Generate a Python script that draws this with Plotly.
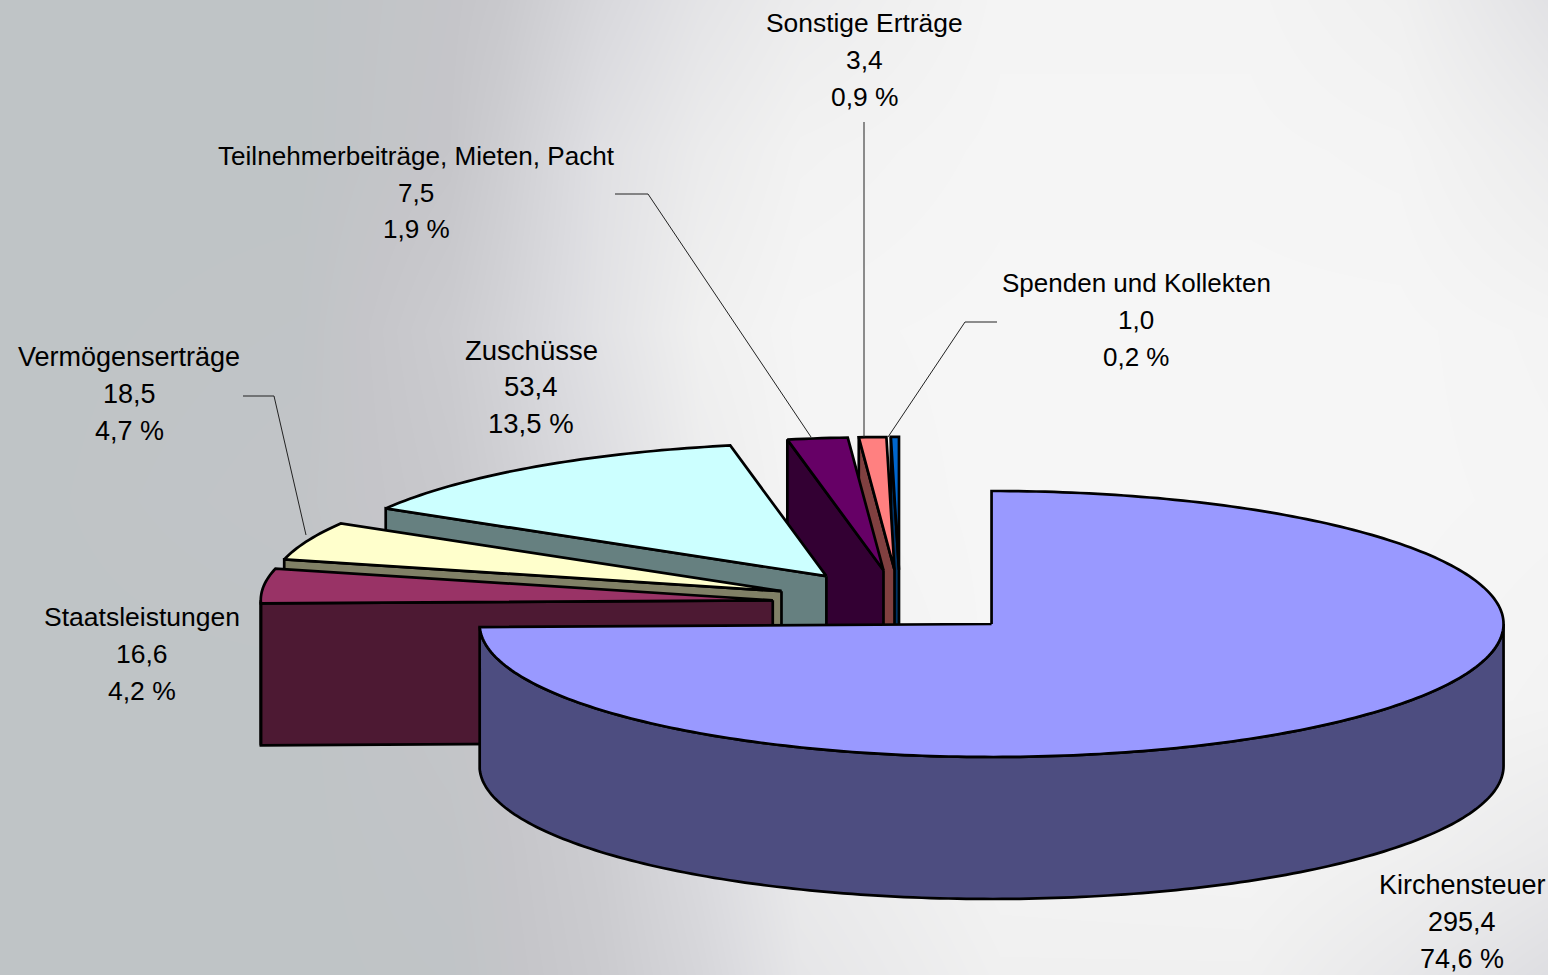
import math
import plotly.graph_objects as go

# ---- data ----
categories = ["Kirchensteuer", "Staatsleistungen", "Vermögenserträge", "Zuschüsse",
              "Teilnehmerbeiträge, Mieten, Pacht", "Sonstige Erträge", "Spenden und Kollekten"]
values = [295.4, 16.6, 18.5, 53.4, 7.5, 3.4, 1.0]
shares = [74.6, 4.2, 4.7, 13.5, 1.9, 0.9, 0.2]
top_colors = ["#9999FF", "#993366", "#FFFFCC", "#CCFFFF", "#660066", "#FF8080", "#0066CC"]
side_colors = ["#4D4D80", "#4D1933", "#808066", "#668080", "#330033", "#804040", "#003366"]

# label block: centre x and y of the three text rows, and font size
label_x = [1462, 142, 129, 531, 416, 864, 1136]
label_y = [(885, 922, 959), (617, 654, 691), (357, 394, 431), (350, 386, 423),
           (156, 193, 229), (23, 60, 97), (283, 320, 357)]
label_size = [27, 26.5, 27, 27.5, 26.1, 26.4, 26]

# leader lines
leader_x = [[243, 274, 306], [615, 648, 811], [864, 864], [997, 965, 888]]
leader_y = [[396, 396, 535], [194, 194, 437], [122, 437], [322, 322, 437]]

# background shading (grey level), sampled by eye
bg_x = [0, 300, 450, 500, 600, 700, 800, 1000, 1250, 1400, 1548]
bg_y = [0, 150, 330, 500, 700, 850, 975]
bg_z = [
    [191, 191, 196, 200, 216, 228, 236, 244, 244, 240, 226],
    [191, 191, 197, 205, 224, 235, 242, 245, 245, 244, 236],
    [191, 192, 203, 210, 226, 240, 245, 246, 246, 246, 244],
    [191, 193, 200, 206, 220, 236, 244, 246, 246, 246, 245],
    [191, 191, 195, 198, 208, 226, 240, 246, 246, 245, 243],
    [191, 191, 193, 196, 204, 218, 234, 243, 244, 240, 234],
    [191, 191, 192, 195, 202, 214, 230, 240, 240, 232, 222],
]

# ---- projection of the exploded 3-D pie onto the page ----
CX, CY = 900, 604      # pie centre before explosion
RX, RY = 512, 133      # ellipse radii
DEPTH = 142            # extrusion height
EXPLODE_X = 0.25       # explosion as share of the radius
EXPLODE_Y = [0.215, 0.256, 0.256, 0.256, 0.256, 0.256, 0.256]
LINE = 2.7


def pt(cx, cy, deg):
    a = math.radians(deg)
    return cx + RX * math.sin(a), cy - RY * math.cos(a)


def arc(cx, cy, a0, a1):
    n = max(2, int(abs(a1 - a0)) + 2)
    return [pt(cx, cy, a0 + (a1 - a0) * i / (n - 1)) for i in range(n)]


total = sum(values)
fig = go.Figure()
fig.add_trace(go.Heatmap(
    x=bg_x, y=bg_y, z=bg_z, zsmooth="best", showscale=False, hoverinfo="skip",
    zmin=191, zmax=246,
    colorscale=[[0, "#BFC4C6"], [0.1, "#C5C5C9"], [0.53, "#DCDCE0"], [0.89, "#F0F0F0"], [1, "#F6F6F6"]],
))


def poly(pts, fill, name):
    fig.add_trace(go.Scatter(
        x=[p[0] for p in pts] + [pts[0][0]], y=[p[1] for p in pts] + [pts[0][1]],
        mode="lines", fill="toself", fillcolor=fill,
        line=dict(color="#000000", width=LINE, simplify=False),
        name=name, hoverinfo="name", showlegend=False,
    ))


starts = []
acc = 0.0
for v in values:
    starts.append(acc)
    acc += v / total * 360

# far slices first, the big front slice last
for i in range(len(values) - 1, -1, -1):
    a0 = starts[i]
    a1 = a0 + values[i] / total * 360
    mid = math.radians((a0 + a1) / 2)
    cx = CX + EXPLODE_X * RX * math.sin(mid)
    cy = CY - EXPLODE_Y[i] * RY * math.cos(mid)
    name = categories[i]
    outer0 = pt(cx, cy, a0)
    if i > 0:
        # cut face at the start angle
        poly([(cx, cy), outer0, (outer0[0], outer0[1] + DEPTH), (cx, cy + DEPTH)], side_colors[i], name)
    w0, w1 = max(a0, 90), min(a1, 270)
    if w1 > w0:
        rim = arc(cx, cy, w0, w1)
        poly(rim + [(x, y + DEPTH) for x, y in reversed(rim)], side_colors[i], name)
    poly([(cx, cy)] + arc(cx, cy, a0, a1), top_colors[i], name)

for lx, ly in zip(leader_x, leader_y):
    fig.add_trace(go.Scatter(x=lx, y=ly, mode="lines", line=dict(color="#222222", width=1),
                             hoverinfo="skip", showlegend=False))

dec = lambda v: f"{v:.1f}".replace(".", ",")
annotations = []
for i, name in enumerate(categories):
    rows = [name, dec(values[i]), dec(shares[i]) + " %"]
    for text, y in zip(rows, label_y[i]):
        annotations.append(dict(x=label_x[i], y=y, text=text, showarrow=False, xanchor="center",
                                yanchor="middle", xref="x", yref="y",
                                font=dict(family="Liberation Sans", size=label_size[i], color="#000000")))

fig.update_layout(
    width=1548, height=975, margin=dict(l=0, r=0, t=0, b=0),
    paper_bgcolor="#F6F6F6", plot_bgcolor="#F6F6F6", showlegend=False,
    xaxis=dict(range=[0, 1548], visible=False, fixedrange=True),
    yaxis=dict(range=[975, 0], visible=False, fixedrange=True),
    annotations=annotations,
)
fig.write_html("out.html", config={"displayModeBar": False},
               post_script="document.body.style.margin='0';document.body.style.overflow='hidden';")
